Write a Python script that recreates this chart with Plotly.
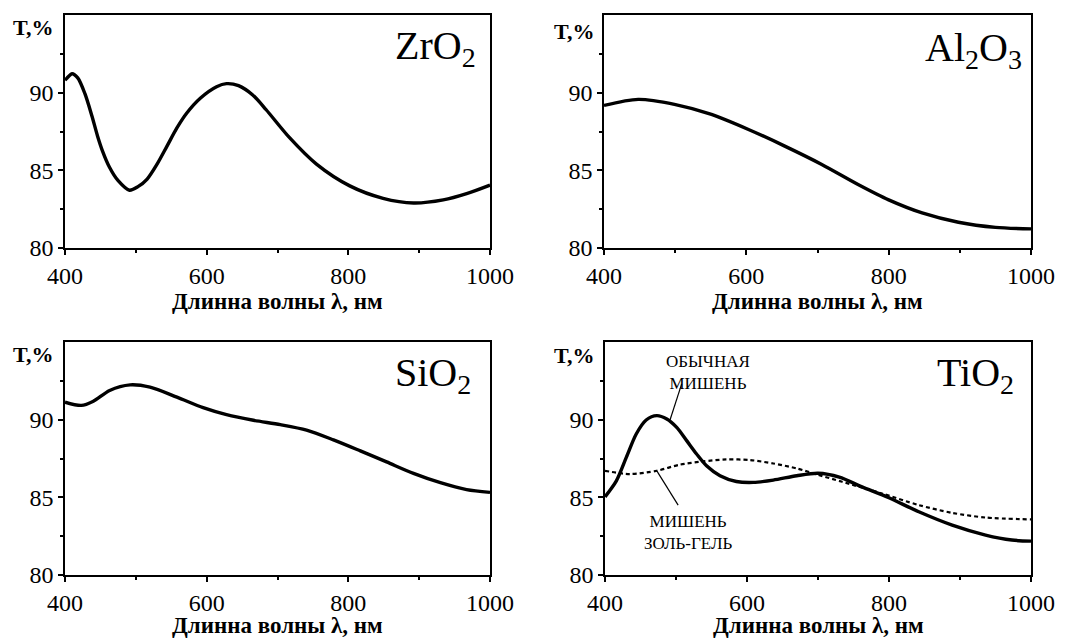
import plotly.graph_objects as go

# ---------------- data ----------------
zro2_x = [400, 403, 410, 418, 428, 438, 446, 453, 463, 475, 491, 503, 516, 530, 544, 558, 572, 591, 614, 628, 645, 665, 684, 717, 755, 802, 849, 892, 934, 967, 1000]
zro2_y = [90.8, 90.95, 91.22, 90.95, 89.95, 88.5, 87.2, 86.24, 85.18, 84.33, 83.72, 83.95, 84.44, 85.4, 86.56, 87.73, 88.69, 89.64, 90.38, 90.58, 90.45, 89.85, 88.9, 87.1, 85.4, 84.0, 83.2, 82.9, 83.1, 83.5, 84.05]

al2o3_x = [400, 448, 499, 551, 603, 654, 706, 757, 800, 847, 898, 950, 1000]
al2o3_y = [89.18, 89.57, 89.25, 88.6, 87.63, 86.56, 85.38, 84.09, 83.1, 82.26, 81.66, 81.33, 81.23]

sio2_x = [400, 423, 440, 463, 492, 520, 558, 595, 628, 666, 704, 741, 779, 817, 854, 892, 930, 967, 1000]
sio2_y = [91.13, 90.92, 91.19, 91.88, 92.24, 92.09, 91.45, 90.77, 90.32, 89.96, 89.68, 89.33, 88.7, 87.99, 87.28, 86.54, 85.94, 85.5, 85.32]

tio2_x = [400, 416, 430, 444, 458, 473, 487, 501, 515, 529, 543, 562, 585, 609, 637, 670, 700, 730, 762, 799, 842, 889, 936, 973, 1000]
tio2_y = [85.03, 86.06, 87.57, 89.08, 89.98, 90.26, 90.04, 89.5, 88.65, 87.79, 87.03, 86.39, 86.02, 85.96, 86.11, 86.39, 86.55, 86.3, 85.67, 84.99, 84.07, 83.21, 82.57, 82.25, 82.18]

tio2_sg_x = [400, 435, 473, 505, 538, 571, 604, 637, 670, 700, 734, 790, 842, 889, 936, 1000]
tio2_sg_y = [86.71, 86.5, 86.71, 87.1, 87.31, 87.44, 87.4, 87.18, 86.86, 86.45, 86.0, 85.25, 84.5, 84.0, 83.7, 83.58]

panel_titles = ["ZrO<sub>2</sub>", "Al<sub>2</sub>O<sub>3</sub>", "SiO<sub>2</sub>", "TiO<sub>2</sub>"]
x_ticks = [400, 600, 800, 1000]
y_ticks = [80, 85, 90]
x_title = "Длинна волны λ, нм"
y_title = "T,%"
label_regular = "ОБЫЧНАЯ<br>МИШЕНЬ"
label_solgel = "МИШЕНЬ<br>ЗОЛЬ-ГЕЛЬ"

# ---------------- layout geometry ----------------
W, H = 1075, 639
px = lambda v: v / W
py = lambda v: 1 - v / H

x_dom = [[px(65), px(490)], [px(604), px(1031)], [px(65), px(490)], [px(605), px(1031)]]
y_dom = [[py(248), py(15)], [py(248), py(15)], [py(575), py(342)], [py(575), py(342)]]

SERIF = "Liberation Serif"

fig = go.Figure()

series = [(zro2_x, zro2_y), (al2o3_x, al2o3_y), (sio2_x, sio2_y), (tio2_x, tio2_y)]
for i, (xs, ys) in enumerate(series):
    sfx = "" if i == 0 else str(i + 1)
    fig.add_trace(go.Scatter(x=xs, y=ys, mode="lines", line=dict(color="black", width=3.4, shape="spline", smoothing=0.8),
                             xaxis="x" + sfx, yaxis="y" + sfx, showlegend=False, hoverinfo="skip"))

fig.add_trace(go.Scatter(x=tio2_sg_x, y=tio2_sg_y, mode="lines",
                         line=dict(color="black", width=2.2, dash="4px,3px", shape="spline", smoothing=0.8),
                         xaxis="x4", yaxis="y4", showlegend=False, hoverinfo="skip"))

layout = dict(width=W, height=H, margin=dict(l=0, r=0, t=0, b=0, autoexpand=False),
              paper_bgcolor="white", plot_bgcolor="white", showlegend=False)

for i in range(4):
    sfx = "" if i == 0 else str(i + 1)
    layout["xaxis" + sfx] = dict(
        domain=x_dom[i], anchor="y" + sfx, range=[400, 1000], tickvals=x_ticks, automargin=False,
        ticks="outside", ticklen=5, tickwidth=1.5, tickcolor="black",
        minor=dict(tickvals=[500, 700, 900], ticks="outside", ticklen=3, tickwidth=1.5, tickcolor="black"),
        showline=True, linecolor="black", linewidth=1.5, mirror=True,
        showgrid=False, zeroline=False,
        tickfont=dict(family=SERIF, size=24, color="black"))
    layout["yaxis" + sfx] = dict(
        domain=y_dom[i], anchor="x" + sfx, range=[80, 95], tickvals=y_ticks, automargin=False,
        ticks="outside", ticklen=5, tickwidth=1.5, tickcolor="black",
        minor=dict(tickvals=[82.5, 87.5, 92.5], ticks="outside", ticklen=3, tickwidth=1.5, tickcolor="black"),
        showline=True, linecolor="black", linewidth=1.5, mirror=True,
        showgrid=False, zeroline=False,
        tickfont=dict(family=SERIF, size=24, color="black"))

annotations = []
# panel titles
title_pos = [(478, 48), (1024, 50), (473, 375), (1016, 375)]
for t, (tx, ty) in zip(panel_titles, title_pos):
    annotations.append(dict(text=t, x=px(tx), y=py(ty), xref="paper", yref="paper",
                            xanchor="right", yanchor="middle", showarrow=False,
                            font=dict(family=SERIF, size=40, color="black")))
# y titles
ytitle_pos = [(33, 28), (574, 31), (33, 354), (574, 355)]
for (tx, ty) in ytitle_pos:
    annotations.append(dict(text="<b>" + y_title + "</b>", x=px(tx), y=py(ty), xref="paper", yref="paper",
                            xanchor="center", yanchor="middle", showarrow=False,
                            font=dict(family=SERIF, size=22, color="black")))
# x titles
for i, ty in enumerate([302, 302, 625, 625]):
    cx = (x_dom[i][0] + x_dom[i][1]) / 2
    annotations.append(dict(text="<b>" + x_title + "</b>", x=cx, y=py(ty), xref="paper", yref="paper",
                            xanchor="center", yanchor="middle", showarrow=False,
                            font=dict(family=SERIF, size=23, color="black")))
# TiO2 curve labels
annotations.append(dict(text=label_regular, x=545, y=93.05, xref="x4", yref="y4",
                        xanchor="center", yanchor="middle", showarrow=False, align="center",
                        font=dict(family=SERIF, size=17, color="black")))
annotations.append(dict(text=label_solgel, x=517, y=82.75, xref="x4", yref="y4",
                        xanchor="center", yanchor="middle", showarrow=False, align="center",
                        font=dict(family=SERIF, size=17, color="black")))
layout["annotations"] = annotations

layout["shapes"] = [
    dict(type="line", xref="x4", yref="y4", x0=508, y0=92.3, x1=491, y1=89.9,
         line=dict(color="black", width=1.2)),
    dict(type="line", xref="x4", yref="y4", x0=473, y0=86.7, x1=503, y1=84.5,
         line=dict(color="black", width=1.2)),
]

fig.update_layout(**layout)
fig.write_html("out.html", config={"displayModeBar": False},
               post_script="document.body.style.margin='0';document.body.style.padding='0';")
